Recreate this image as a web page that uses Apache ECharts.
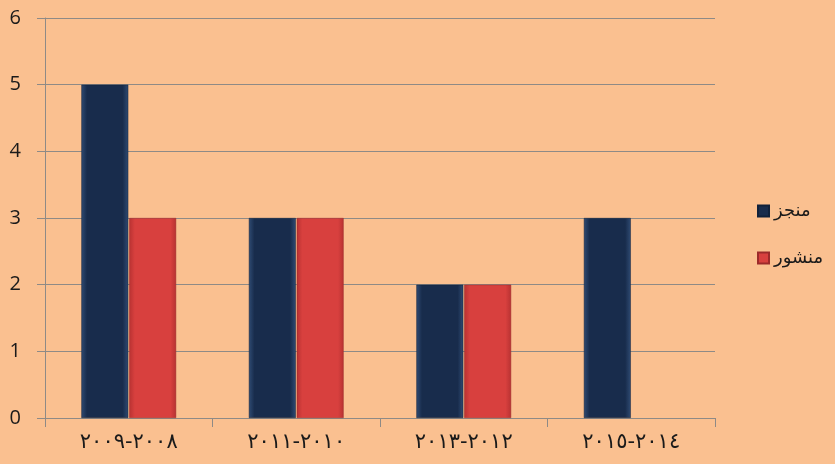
<!DOCTYPE html>
<html><head><meta charset="utf-8">
<script src="https://cdn.jsdelivr.net/npm/echarts@6/dist/echarts.min.js"></script>
<style>html,body{margin:0;padding:0;background:#FAC090;}#c{width:835px;height:464px;}</style>
</head><body><div id="c"></div>
<script>
const categories = ['٢٠٠٨-٢٠٠٩', '٢٠١٠-٢٠١١', '٢٠١٢-٢٠١٣', '٢٠١٤-٢٠١٥'];
const seriesNames = ['منجز', 'منشور'];
const valuesDone = [5, 3, 2, 3];
const valuesPublished = [3, 3, 2, null];
const yTicks = { min: 0, max: 6, interval: 1 };

function grad(edge, mid) {
  return new echarts.graphic.LinearGradient(0, 0, 1, 0, [
    { offset: 0, color: edge }, { offset: 0.12, color: mid },
    { offset: 0.88, color: mid }, { offset: 1, color: edge }
  ]);
}
const chart = echarts.init(document.getElementById('c'));
chart.setOption({
  backgroundColor: '#FAC090',
  animation: false,
  grid: { left: 45, right: 120, top: 18, bottom: 46 },
  legend: {
    orient: 'vertical', left: 757, top: 202, itemGap: 29, padding: 0,
    itemWidth: 11, itemHeight: 11,
    textStyle: { fontFamily: 'DejaVu Sans', fontSize: 18, color: '#1a1a1a' },
    data: [
      { name: seriesNames[0], icon: 'rect' },
      { name: seriesNames[1], icon: 'rect' }
    ]
  },
  xAxis: {
    type: 'category', data: categories,
    axisLine: { lineStyle: { color: '#8e8a86', width: 1 } },
    axisTick: { show: true, length: 9, lineStyle: { color: '#8e8a86' } },
    axisLabel: { margin: 14, fontFamily: 'DejaVu Sans', fontSize: 21, color: '#1a1a1a' }
  },
  yAxis: {
    type: 'value', min: yTicks.min, max: yTicks.max, interval: yTicks.interval,
    axisLine: { show: true, lineStyle: { color: '#8e8a86', width: 1 } },
    axisTick: { show: true, length: 8, lineStyle: { color: '#8e8a86' } },
    splitLine: { lineStyle: { color: '#8e8a86', width: 1 } },
    axisLabel: { margin: 24, fontFamily: 'Open Sans', fontSize: 20, color: '#1a1a1a' }
  },
  series: [
    {
      name: seriesNames[0], type: 'bar', data: valuesDone,
      barWidth: '28%', barGap: '2%',
      itemStyle: { color: grad('#2f4b73', '#182c4c'), borderColor: '#10213a', borderWidth: 0.5 }
    },
    {
      name: seriesNames[1], type: 'bar', data: valuesPublished,
      barWidth: '28%', barGap: '2%',
      itemStyle: { color: grad('#b83232', '#d8403e'), borderColor: '#9c2a2a', borderWidth: 0.5 }
    }
  ]
});
</script></body></html>
